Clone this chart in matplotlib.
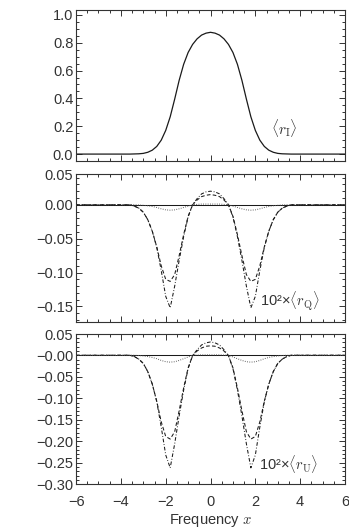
import numpy as np
import matplotlib
matplotlib.use("Agg")
import matplotlib.pyplot as plt
import matplotlib.ticker as ticker

plt.rcParams['font.family'] = ['Liberation Sans', 'DejaVu Sans']
plt.rcParams['mathtext.fontset'] = 'cm'

# sampled at |x| (profiles are symmetric about x = 0)
x_half = [0.0, 0.2, 0.4, 0.6, 0.8, 1.0, 1.2, 1.4, 1.6, 1.8,
          2.0, 2.2, 2.4, 2.6, 2.8, 3.0, 3.2, 3.4, 3.6]

r_I = [0.875, 0.869, 0.855, 0.828, 0.788, 0.730, 0.645, 0.530, 0.395, 0.268,
       0.170, 0.100, 0.055, 0.028, 0.013, 0.005, 0.002, 0.001, 0.000]

rQ_dashdot = [0.020, 0.019, 0.016, 0.009, 0.000, -0.018, -0.047, -0.082, -0.120, -0.152,
              -0.135, -0.097, -0.063, -0.039, -0.022, -0.011, -0.005, -0.002, 0.000]
rQ_dashed = [0.015, 0.014, 0.012, 0.007, 0.000, -0.017, -0.044, -0.075, -0.103, -0.113,
             -0.110, -0.090, -0.062, -0.039, -0.022, -0.011, -0.005, -0.002, 0.000]
rQ_dotted = [0.001, 0.001, 0.001, 0.0005, 0.000, -0.002, -0.004, -0.006, -0.0075, -0.008,
             -0.0075, -0.006, -0.004, -0.0025, -0.0015, -0.0008, -0.0003, 0.000, 0.000]

rU_dashdot = [0.031, 0.029, 0.024, 0.013, -0.001, -0.031, -0.081, -0.141, -0.206, -0.262,
              -0.232, -0.167, -0.108, -0.067, -0.038, -0.019, -0.009, -0.003, 0.000]
rU_dashed = [0.022, 0.021, 0.017, 0.010, -0.001, -0.029, -0.076, -0.129, -0.178, -0.195,
             -0.189, -0.155, -0.107, -0.067, -0.038, -0.019, -0.009, -0.003, 0.000]
rU_dotted = [0.001, 0.001, 0.001, 0.0005, 0.000, -0.004, -0.008, -0.012, -0.015, -0.016,
             -0.015, -0.012, -0.008, -0.005, -0.003, -0.0015, -0.0006, 0.000, 0.000]

x_ticks = [-6, -4, -2, 0, 2, 4, 6]


def full(vals):
    # mirror the read half-profile and pad with the flat wings
    v = np.array(vals)
    return np.concatenate([[0.0], v[::-1], v[1:], [0.0]])


xh = np.array(x_half)
x_full = np.concatenate([[-6.0], -xh[::-1], xh[1:], [6.0]])

fig = plt.figure(figsize=(3.49, 5.28), dpi=100)
left, right = 0.218, 0.9885
ax1 = fig.add_axes([left, 0.695, right - left, 0.981 - 0.695])
ax2 = fig.add_axes([left, 0.390, right - left, 0.670 - 0.390])
ax3 = fig.add_axes([left, 0.083, right - left, 0.367 - 0.083])

lw = 0.75
ink = '#1a1a1a'
ax1.plot(x_full, full(r_I), color=ink, lw=0.9)

for ax, dd, da, dt in [(ax2, rQ_dashdot, rQ_dashed, rQ_dotted),
                       (ax3, rU_dashdot, rU_dashed, rU_dotted)]:
    ax.axhline(0, color=ink, lw=lw)
    ax.plot(x_full, full(dd), color=ink, lw=lw, linestyle=(0, (3.5, 1.8, 0.8, 1.8)))
    ax.plot(x_full, full(da), color=ink, lw=lw, linestyle=(0, (3.5, 2.2)))
    ax.plot(x_full, full(dt), color='#555555', lw=lw, linestyle=(0, (0.8, 1.4)))

ax1.set_ylim(-0.05, 1.035)
ax1.set_yticks([0.0, 0.2, 0.4, 0.6, 0.8, 1.0])
ax1.set_yticklabels(['0.0', '0.2', '0.4', '0.6', '0.8', '1.0'])
ax1.yaxis.set_minor_locator(ticker.MultipleLocator(0.05))

ax2.set_ylim(-0.173, 0.045)
ax2.set_yticks([0.045, 0.0, -0.05, -0.10, -0.15])
ax2.set_yticklabels(['0.05', '0.00', '\u22120.05', '\u22120.10', '\u22120.15'])
ax2.yaxis.set_minor_locator(ticker.FixedLocator(np.arange(-0.17, 0.045, 0.01)))

ax3.set_ylim(-0.30, 0.049)
ax3.set_yticks([0.049, 0.0, -0.05, -0.10, -0.15, -0.20, -0.25, -0.30])
ax3.set_yticklabels(['0.05', '\u22120.00', '\u22120.05', '\u22120.10', '\u22120.15',
                     '\u22120.20', '\u22120.25', '\u22120.30'])
ax3.yaxis.set_minor_locator(ticker.FixedLocator(np.arange(-0.29, 0.045, 0.01)))

for ax in (ax1, ax2, ax3):
    ax.set_xlim(-6, 6)
    ax.set_xticks(x_ticks)
    ax.xaxis.set_minor_locator(ticker.MultipleLocator(0.5))
    ax.tick_params(which='both', direction='in', top=True, right=True,
                   labelsize=10.5, width=0.7, colors='#333333')
    ax.tick_params(which='major', length=4)
    ax.tick_params(which='minor', length=2)
    ax.tick_params(axis='y', pad=2)
    ax.tick_params(axis='x', pad=8)
    for s in ax.spines.values():
        s.set_linewidth(0.8)
        s.set_color('#333333')

ax1.tick_params(labelbottom=False)
ax2.tick_params(labelbottom=False)
ax3.set_xticklabels(['\u22126', '\u22124', '\u22122', '0', '2', '4', '6'])
ax3.set_xlabel(r'Frequency $x$', fontsize=10.5, labelpad=2, color='#333333')

ax1.text(3.3, 0.19, r'$\langle r_{\rm I}\rangle$', fontsize=11, ha='center', va='center',
         color='#333333')
ax2.text(3.55, -0.143, '10\u00b2\u00d7' + r'$\langle r_{\rm Q}\rangle$',
         fontsize=10.5, ha='center', va='center', color='#333333')
ax3.text(3.5, -0.254, '10\u00b2\u00d7' + r'$\langle r_{\rm U}\rangle$',
         fontsize=10.5, ha='center', va='center', color='#333333')

fig.savefig('out.png', dpi=100)
